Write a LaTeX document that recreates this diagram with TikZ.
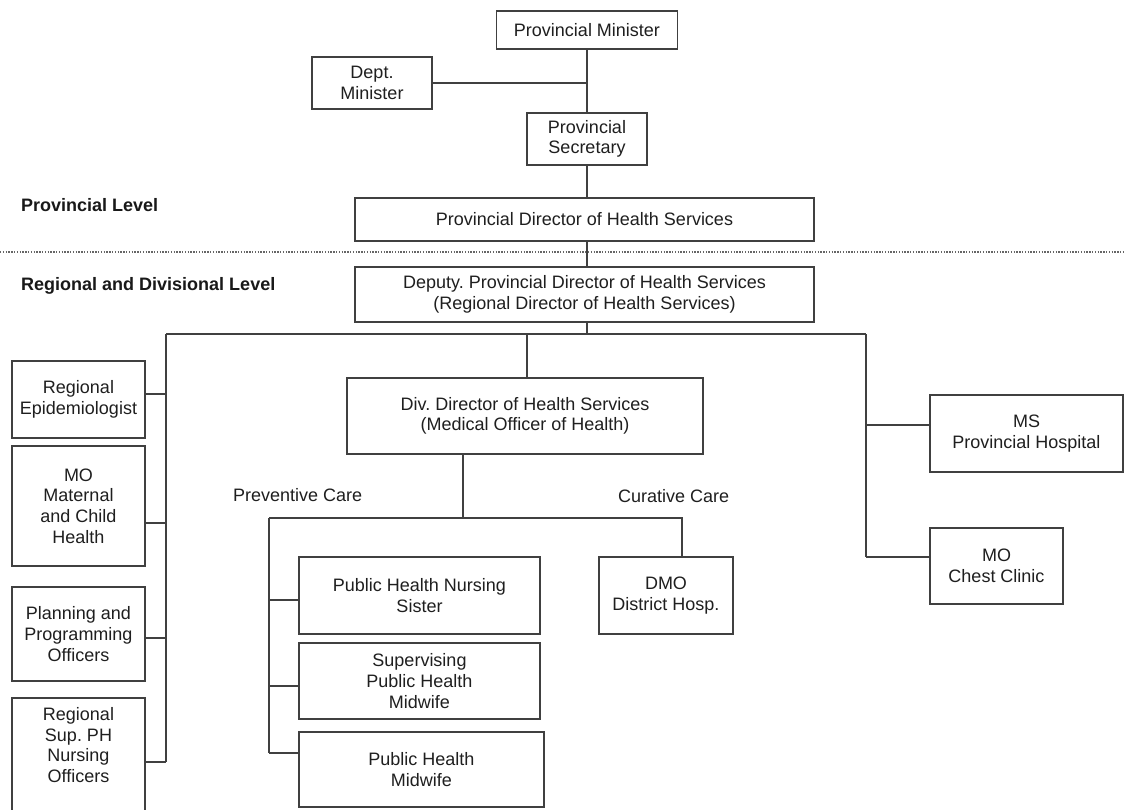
\documentclass[tikz,border=0pt]{standalone}
\usepackage{fontspec}
\setmainfont{Liberation Sans}
\frenchspacing
\begin{document}
\begin{tikzpicture}[x=1pt,y=-1pt,
  ink/.style={draw=black!75,line width=1.3pt},
  unit/.style={ink,rectangle,inner sep=0pt,align=center,text=black!88,
    font=\fontsize{18}{20.6}\selectfont},
  levelname/.style={anchor=west,inner sep=0pt,text=black!90,
    font=\fontsize{18}{20.6}\selectfont\bfseries},
  caption/.style={anchor=base west,inner sep=0pt,text=black!88,
    font=\fontsize{18}{20.6}\selectfont},
  link/.style={draw=black!75,line width=1.3pt}]
\useasboundingbox[fill=white] (0,0) rectangle (1125,809);

% provincial level
\node[unit,minimum width=181,minimum height=38] (pmin) at (587,30) {Provincial Minister};
\node[unit,minimum width=120,minimum height=52] (dept) at (372,83) {Dept.\\Minister};
\node[unit,minimum width=120,minimum height=52] (psec) at (587,139) {Provincial\\Secretary};
\node[unit,minimum width=459,minimum height=43] (pdir) at (584.5,219.5) {Provincial Director of Health Services};

\node[levelname] (lprov) at (21,205) {Provincial Level};
\node[levelname] (lreg) at (21,285.5) {Regional and Divisional Level};
\coordinate (sepL) at (0,252);
\coordinate (sepR) at (1125,252);
\draw[draw=black!60,line width=1.1pt,dash pattern=on 1.3pt off 1.5pt] (sepL) -- (sepR);

% regional and divisional level
\node[unit,minimum width=459,minimum height=55] (dep) at (584.5,294.5)
  {Deputy. Provincial Director of Health Services\\(Regional Director of Health Services)};
\node[unit,minimum width=356,minimum height=76] (div) at (525,416)
  {Div. Director of Health Services\\(Medical Officer of Health)};

\node[unit,minimum width=133,minimum height=77] (epi) at (78.5,399.5) {Regional\\Epidemiologist};
\node[unit,minimum width=133,minimum height=120] (mat) at (78.5,506) {MO\\Maternal\\and Child\\Health};
\node[unit,minimum width=133,minimum height=94] (plan) at (78.5,634) {Planning and\\Programming\\Officers};
\node[unit,minimum width=133,minimum height=132] (sup) at (78.5,764) {};
\node[unit,draw=none] (suptext) at (78.5,745) {Regional\\Sup. PH\\Nursing\\Officers};

\node[unit,minimum width=241,minimum height=77] (phns) at (419.5,595.5) {Public Health Nursing\\Sister};
\node[unit,minimum width=241,minimum height=76] (sphm) at (419.5,681) {Supervising\\Public Health\\Midwife};
\node[unit,minimum width=245,minimum height=75] (phm) at (421.5,769.5) {Public Health\\Midwife};
\node[unit,minimum width=134,minimum height=77] (dmo) at (666,595.5) {DMO\\District Hosp.};

\node[unit,minimum width=193,minimum height=77] (ms) at (1026.5,433.5) {MS\\Provincial Hospital};
\node[unit,minimum width=133,minimum height=76] (mo) at (996.5,566) {MO\\Chest Clinic};

\node[caption] (prev) at (233,501) {Preventive Care};
\node[caption] (cur) at (618,502) {Curative Care};

% junction points
\coordinate (busL) at (166,334);
\coordinate (busR) at (866,334);
\coordinate (busDiv) at (527,334);
\coordinate (careL) at (269,518);
\coordinate (careR) at (682,518);

% chain of command
\draw[link] (pmin.south) -- (pmin.south |- psec.north);
\draw[link] (dept.east) -- (dept.east -| psec.north);
\draw[link] (psec.south) -- (psec.south |- pdir.north);
\draw[link] (psec.south |- pdir.south) -- (psec.south |- dep.north);
\draw[link] (psec.south |- dep.south) -- (psec.south |- busL);

% regional bus
\draw[link] (busL) -- (busR);
\draw[link] (busL) -- (busL |- 0,762);
\draw[link] ([yshift=5.5pt]epi.east) -- ([yshift=5.5pt]epi.east -| busL);
\draw[link] ([yshift=-17pt]mat.east) -- ([yshift=-17pt]mat.east -| busL);
\draw[link] ([yshift=-4pt]plan.east) -- ([yshift=-4pt]plan.east -| busL);
\draw[link] ([yshift=2pt]sup.east) -- ([yshift=2pt]sup.east -| busL);
\draw[link] (busDiv) -- (busDiv |- div.north);
\draw[link] (busR) -- (busR |- 0,557);
\draw[link] ([yshift=8.5pt]ms.west) -- ([yshift=8.5pt]ms.west -| busR);
\draw[link] ([yshift=9pt]mo.west) -- ([yshift=9pt]mo.west -| busR);

% divisional care branches
\draw[link] ([xshift=-62pt]div.south) -- ([xshift=-62pt]div.south |- careL);
\draw[link] (careL) -- (careR) -- (careR |- dmo.north);
\draw[link] (careL) -- (careL |- 0,753);
\draw[link] ([yshift=-4.5pt]phns.west) -- ([yshift=-4.5pt]phns.west -| careL);
\draw[link] ([yshift=-5pt]sphm.west) -- ([yshift=-5pt]sphm.west -| careL);
\draw[link] ([yshift=16.5pt]phm.west) -- ([yshift=16.5pt]phm.west -| careL);
\end{tikzpicture}
\end{document}
